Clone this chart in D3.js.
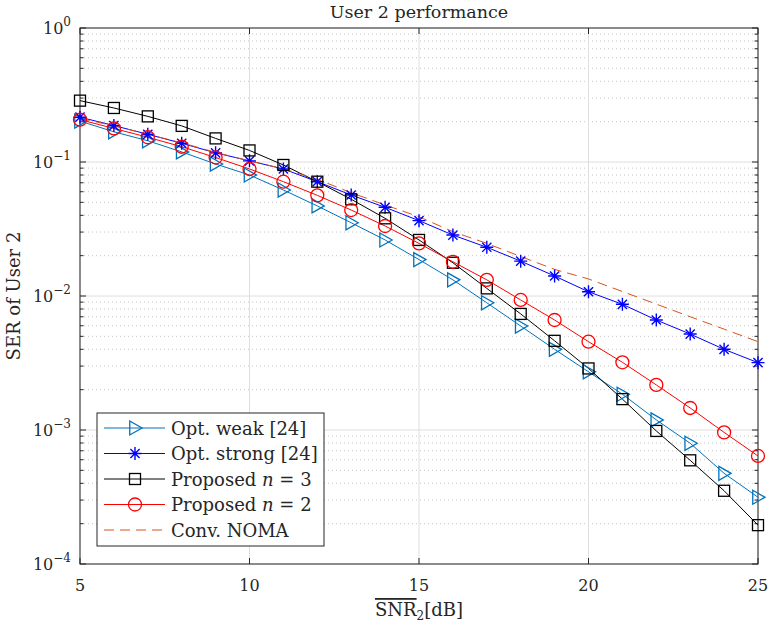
<!DOCTYPE html>
<html>
<head>
<meta charset="utf-8">
<script src="https://cdn.jsdelivr.net/npm/d3@7"></script>
<style>
  body { margin: 0; background: #fff; }
  text { font-family: "DejaVu Serif", "Liberation Serif", serif; fill: #262626; }
</style>
</head>
<body>
<div id="chart"></div>
<script>
const snr = [5, 6, 7, 8, 9, 10, 11, 12, 13, 14, 15, 16, 17, 18, 19, 20, 21, 22, 23, 24, 25];

const optWeak = [0.202, 0.168, 0.144, 0.119, 0.0966, 0.080, 0.0618, 0.047, 0.0352, 0.0262, 0.0187,
  0.0132, 0.0089, 0.00597, 0.0040, 0.00272, 0.00185, 0.00119, 0.000796, 0.000475, 0.000315];
const optStrong = [0.216, 0.187, 0.161, 0.138, 0.117, 0.102, 0.0887, 0.0713, 0.0567, 0.0459, 0.0365,
  0.0285, 0.0231, 0.0182, 0.0141, 0.01076, 0.00867, 0.00662, 0.0052, 0.0040, 0.00318];
const proposed3 = [0.287, 0.253, 0.219, 0.186, 0.150, 0.122, 0.095, 0.0713, 0.0527, 0.038, 0.0262,
  0.0177, 0.0114, 0.00735, 0.00463, 0.00288, 0.0017, 0.000984, 0.000594, 0.000352, 0.000195];
const proposed2 = [0.207, 0.178, 0.153, 0.130, 0.108, 0.0887, 0.0713, 0.0564, 0.0438, 0.0333, 0.0247,
  0.018, 0.0132, 0.00934, 0.00662, 0.00456, 0.0032, 0.00217, 0.00146, 0.00096, 0.00064];
const convNoma = [0.212, 0.186, 0.161, 0.139, 0.118, 0.102, 0.089, 0.0743, 0.059, 0.0478, 0.039,
  0.0302, 0.0247, 0.0197, 0.0158, 0.0134, 0.0108, 0.0087, 0.0070, 0.00566, 0.00456];

const xTicks = [5, 10, 15, 20, 25];
const yTicks = [1, 0.1, 0.01, 0.001, 0.0001];
const yTickExp = ['0', '\u22121', '\u22122', '\u22123', '\u22124'];

const series = [
  {name: 'Opt. weak [24]', values: optWeak, color: '#0072BD', marker: 'triangle', dash: null},
  {name: 'Opt. strong [24]', values: optStrong, color: '#0000FF', marker: 'star', dash: null},
  {name: 'Proposed n = 3', values: proposed3, color: '#000000', marker: 'square', dash: null},
  {name: 'Proposed n = 2', values: proposed2, color: '#FF0000', marker: 'circle', dash: null},
  {name: 'Conv. NOMA', values: convNoma, color: '#D95319', marker: null, dash: '10,6'}
];

const W = 770, H = 628;
const margin = {top: 28, right: 12, bottom: 64, left: 80};
const width = W - margin.left - margin.right,
      height = H - margin.top - margin.bottom;

const svg = d3.select('#chart').append('svg')
  .attr('width', W).attr('height', H);

const g = svg.append('g')
  .attr('transform', 'translate(' + margin.left + ',' + margin.top + ')');

const x = d3.scaleLinear().domain([5, 25]).range([0, width]);
const y = d3.scaleLog().domain([1e-4, 1]).range([height, 0]);

// minor y grid (dotted)
const minorY = [];
for (let e = -4; e < 0; e++) {
  for (let m = 2; m <= 9; m++) minorY.push(m * Math.pow(10, e));
}
g.selectAll('.minor-grid').data(minorY).enter().append('line')
  .attr('x1', 0).attr('x2', width)
  .attr('y1', d => y(d)).attr('y2', d => y(d))
  .attr('stroke', '#b8b8b8').attr('stroke-width', 0.8)
  .attr('stroke-dasharray', '1,3');

// major grid
g.selectAll('.major-grid-y').data(yTicks).enter().append('line')
  .attr('x1', 0).attr('x2', width)
  .attr('y1', d => y(d)).attr('y2', d => y(d))
  .attr('stroke', '#dedede').attr('stroke-width', 1);
g.selectAll('.major-grid-x').data(xTicks).enter().append('line')
  .attr('y1', 0).attr('y2', height)
  .attr('x1', d => x(d)).attr('x2', d => x(d))
  .attr('stroke', '#dedede').attr('stroke-width', 1);

// axes (ticks inside, box)
const tickLen = 6, minorLen = 3.5;
const axG = g.append('g');
axG.append('rect').attr('width', width).attr('height', height)
  .attr('fill', 'none').attr('stroke', '#262626').attr('stroke-width', 1);
xTicks.forEach(t => {
  axG.append('line').attr('x1', x(t)).attr('x2', x(t)).attr('y1', height).attr('y2', height - tickLen)
    .attr('stroke', '#262626');
  axG.append('line').attr('x1', x(t)).attr('x2', x(t)).attr('y1', 0).attr('y2', tickLen)
    .attr('stroke', '#262626');
});
yTicks.forEach(t => {
  axG.append('line').attr('x1', 0).attr('x2', tickLen).attr('y1', y(t)).attr('y2', y(t))
    .attr('stroke', '#262626');
  axG.append('line').attr('x1', width).attr('x2', width - tickLen).attr('y1', y(t)).attr('y2', y(t))
    .attr('stroke', '#262626');
});
minorY.forEach(t => {
  axG.append('line').attr('x1', 0).attr('x2', minorLen).attr('y1', y(t)).attr('y2', y(t))
    .attr('stroke', '#262626');
  axG.append('line').attr('x1', width).attr('x2', width - minorLen).attr('y1', y(t)).attr('y2', y(t))
    .attr('stroke', '#262626');
});

// tick labels
g.selectAll('.xlab').data(xTicks).enter().append('text')
  .attr('x', d => x(d)).attr('y', height + 27)
  .attr('text-anchor', 'middle').style('font-size', '16px')
  .text(d => d);

yTicks.forEach((t, i) => {
  const tx = g.append('text').attr('x', -9).attr('y', y(t) + 6)
    .attr('text-anchor', 'end').style('font-size', '16px');
  tx.append('tspan').text('10');
  tx.append('tspan').attr('dy', -8).style('font-size', '12px').text(yTickExp[i]);
});

// lines
const line = d3.line().x((d, i) => x(snr[i])).y(d => y(d));
series.forEach(s => {
  g.append('path').datum(s.values)
    .attr('d', line)
    .attr('fill', 'none')
    .attr('stroke', s.color)
    .attr('stroke-width', 1)
    .attr('stroke-dasharray', s.dash);
});

function drawMarker(sel, type, color, cx, cy) {
  if (type === 'triangle') {
    const r = 7;
    sel.append('path')
      .attr('d', `M${cx - r * 0.75},${cy - r} L${cx + r},${cy} L${cx - r * 0.75},${cy + r} Z`)
      .attr('fill', 'none').attr('stroke', color).attr('stroke-width', 1.3);
  } else if (type === 'square') {
    const r = 5.5;
    sel.append('rect').attr('x', cx - r).attr('y', cy - r).attr('width', 2 * r).attr('height', 2 * r)
      .attr('fill', 'none').attr('stroke', color).attr('stroke-width', 1.3);
  } else if (type === 'circle') {
    sel.append('circle').attr('cx', cx).attr('cy', cy).attr('r', 6.5)
      .attr('fill', 'none').attr('stroke', color).attr('stroke-width', 1.3);
  } else if (type === 'star') {
    const r = 6.5, d = r * 0.7071;
    sel.append('path')
      .attr('d', `M${cx},${cy - r}V${cy + r}M${cx - r},${cy}H${cx + r}` +
        `M${cx - d},${cy - d}L${cx + d},${cy + d}M${cx - d},${cy + d}L${cx + d},${cy - d}`)
      .attr('fill', 'none').attr('stroke', color).attr('stroke-width', 1.4);
  }
}

series.forEach(s => {
  if (!s.marker) return;
  const mg = g.append('g');
  s.values.forEach((v, i) => drawMarker(mg, s.marker, s.color, x(snr[i]), y(v)));
});

// title and axis labels
svg.append('text').attr('x', margin.left + width / 2).attr('y', 18)
  .attr('text-anchor', 'middle').style('font-size', '17.5px').text('User 2 performance');

svg.append('text')
  .attr('transform', `translate(20,${margin.top + height / 2}) rotate(-90)`)
  .attr('text-anchor', 'middle').style('font-size', '18px').text('SER of User 2');

const xl = svg.append('text').attr('x', margin.left + width / 2).attr('y', H - 12)
  .attr('text-anchor', 'middle').style('font-size', '18px');
xl.append('tspan').style('text-decoration', 'overline').text('SNR');
xl.append('tspan').attr('dy', 4).style('font-size', '12px').text('2');
xl.append('tspan').attr('dy', -4).text('[dB]');

// legend
const lg = g.append('g').attr('transform', `translate(${97 - margin.left},${413 - margin.top})`);
lg.append('rect').attr('width', 227).attr('height', 133)
  .attr('fill', '#fff').attr('stroke', '#262626').attr('stroke-width', 1);
series.forEach((s, i) => {
  const yy = 15 + i * 25.5;
  lg.append('line').attr('x1', 7).attr('x2', 68).attr('y1', yy).attr('y2', yy)
    .attr('stroke', s.color).attr('stroke-width', 1).attr('stroke-dasharray', s.dash);
  if (s.marker) drawMarker(lg, s.marker, s.color, 38, yy);
  const t = lg.append('text').attr('x', 74).attr('y', yy + 6.5).style('font-size', '18px');
  if (s.name.indexOf('n =') >= 0) {
    const parts = s.name.split('n');
    t.append('tspan').text(parts[0]);
    t.append('tspan').style('font-style', 'italic').text('n');
    t.append('tspan').text(parts[1]);
  } else {
    t.text(s.name);
  }
});
</script>
</body>
</html>
